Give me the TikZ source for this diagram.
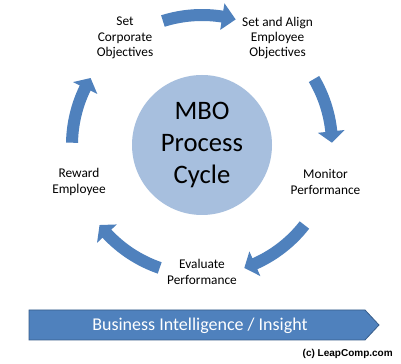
\documentclass[tikz,border=0pt]{standalone}
\usepackage{fontspec}
\setmainfont{Carlito}
\newfontfamily\copyfont{Liberation Sans}
\usetikzlibrary{calc}
\definecolor{arrowblue}{HTML}{4F81BD}
\definecolor{circblue}{HTML}{A7BFDE}
\definecolor{bordblue}{HTML}{385D8A}
\newcommand{\cyclearrow}[3]{%
  \fill[arrowblue] ($(C)+(#1:136)$) arc[start angle=#1, end angle=#2, radius=136]
    -- ($(C)+(#2:143.5)$) -- ($(C)+(#3:130)$) -- ($(C)+(#2:116.5)$)
    -- ($(C)+(#2:124)$) arc[start angle=#2, end angle=#1, radius=124] -- cycle;}
\tikzset{
  lbl/.style={align=center, font=\fontsize{10}{11.6}\selectfont, inner sep=0pt},
}
\begin{document}
\begin{tikzpicture}[x=0.75pt, y=0.75pt]
\useasboundingbox[fill=white] (0,0) rectangle (401,364);
\coordinate (C) at (202,219);
% central circle
\node[circle, fill=circblue, minimum size=140*0.75pt, inner sep=0pt,
      align=center, font=\fontsize{20}{24}\selectfont] (mbo) at (202,219) {MBO\\Process\\Cycle};
% cycle arrows
\cyclearrow{107.5}{81}{75}
\cyclearrow{30.5}{6}{1}
\cyclearrow{-38}{-66}{-71}
\cyclearrow{-109}{-137}{-142}
\cyclearrow{179}{154}{149}
% labels
\node[lbl] (corp) at (125,326) {Set\\Corporate\\Objectives};
\node[lbl] (emp) at (277.5,326) {Set and Align\\Employee\\Objectives};
\node[lbl] (mon) at (325.5,182) {Monitor\\Performance};
\node[lbl] (eval) at (202,92) {Evaluate\\Performance};
\node[lbl] (rew) at (79,182) {Reward\\Employee};
% bottom bar
\filldraw[fill=arrowblue, draw=bordblue, line width=0.6pt]
  (29,54) -- (365,54) -- (379,39) -- (365,24) -- (29,24) -- cycle;
\node[text=white, font=\fontsize{13.5}{16}\selectfont, inner sep=0pt] (bi) at (200,38.5) {Business Intelligence / Insight};
\node[anchor=east, font=\copyfont\bfseries\fontsize{7.5}{9}\selectfont, inner sep=0pt] (copy) at (393,10) {(c) LeapComp.com};
\end{tikzpicture}
\end{document}
